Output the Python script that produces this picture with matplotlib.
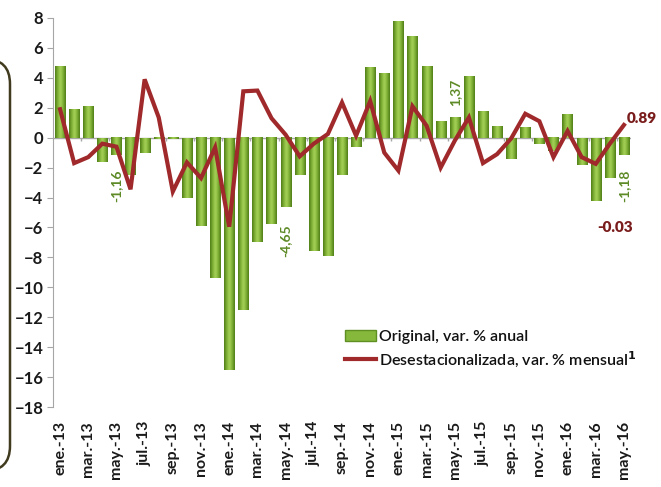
import numpy as np
import matplotlib.pyplot as plt
from matplotlib.colors import LinearSegmentedColormap
from matplotlib.patches import FancyBboxPatch, Patch
from matplotlib.lines import Line2D

months = ["ene.-13", "feb.-13", "mar.-13", "abr.-13", "may.-13", "jun.-13", "jul.-13",
          "ago.-13", "sep.-13", "oct.-13", "nov.-13", "dic.-13",
          "ene.-14", "feb.-14", "mar.-14", "abr.-14", "may.-14", "jun.-14", "jul.-14",
          "ago.-14", "sep.-14", "oct.-14", "nov.-14", "dic.-14",
          "ene.-15", "feb.-15", "mar.-15", "abr.-15", "may.-15", "jun.-15", "jul.-15",
          "ago.-15", "sep.-15", "oct.-15", "nov.-15", "dic.-15",
          "ene.-16", "feb.-16", "mar.-16", "abr.-16", "may.-16"]

original = [4.8, 1.9, 2.1, -1.6, -1.16, -2.5, -1.0, -0.1, -0.1, -4.0, -5.9, -9.4,
            -15.5, -11.5, -7.0, -5.8, -4.65, -2.5, -7.6, -7.9, -2.5, -0.65, 4.7, 4.3,
            7.8, 6.8, 4.8, 1.1, 1.37, 4.1, 1.8, 0.75, -1.4, 0.7, -0.4, -0.9,
            1.6, -1.8, -4.2, -2.7, -1.18]

desest = [1.9, -1.7, -1.3, -0.4, -0.6, -3.45, 3.9, 1.35, -3.6, -1.65, -2.7, -0.65,
          -5.95, 3.1, 3.15, 1.3, 0.2, -1.25, -0.4, 0.25, 2.35, 0.13, 2.45, -1.0,
          -2.2, 2.1, 0.8, -2.0, -0.2, 1.35, -1.7, -1.1, -0.05, 1.6, 1.1, -1.3,
          0.45, -1.3, -1.75, -0.4, 0.85]

# value labels: (month index, label text, y position)
green_labels = [(4, "-1,16", -3.2), (16, "-4,65", -6.9), (28, "1,37", 3.0), (40, "-1,18", -3.2)]
red_labels = [(39.4, "-0.03", -6.0, "center"), (40.2, "0.89", 1.25, "left")]

plt.rcParams["font.family"] = ["Lato", "DejaVu Sans"]

fig = plt.figure(figsize=(6.61, 4.87), dpi=100)
ax = fig.add_axes([53 / 661, 80 / 487, 578 / 661, 389 / 487])

x = np.arange(len(months))
bars = ax.bar(x, original, width=0.72, color="#7aab2f", zorder=2)

green_cmap = LinearSegmentedColormap.from_list(
    "g", ["#4e7c18", "#7fb035", "#a8d25a", "#7fb035", "#4e7c18"])
grad = np.linspace(0, 1, 64).reshape(1, -1)
for b in bars:
    x0, y0 = b.get_x(), b.get_y()
    w, h = b.get_width(), b.get_height()
    ax.imshow(grad, extent=[x0, x0 + w, y0, y0 + h], cmap=green_cmap,
              aspect="auto", zorder=2.1, interpolation="bicubic")

ax.plot(x, desest, color="#a0292b", lw=3, zorder=3, solid_joinstyle="miter")

ax.axhline(0, color="#a6a6a6", lw=1, zorder=1.5)
ax.vlines(np.arange(1.5, len(months) - 1, 2), -0.25, 0, color="#a6a6a6", lw=1, zorder=1.5)

for i, txt, yv in green_labels:
    ax.text(i, yv, txt, rotation=90, ha="center", va="center", color="#5d8a26",
            fontsize=10, fontweight="bold", zorder=4)
for i, txt, yv, ha in red_labels:
    ax.text(i, yv, txt, ha=ha, va="center", color="#7a1c1c",
            fontsize=11, fontweight="heavy", zorder=4, clip_on=False)

ax.set_xlim(-0.5, len(months) - 0.5)
ax.set_ylim(-18, 8)
ax.set_yticks(np.arange(-18, 9, 2))
ax.set_xticks(x[::2])
ax.set_xticklabels(months[::2], rotation=90)
ax.tick_params(axis="x", length=0, pad=10, labelsize=11.5)
ax.tick_params(axis="y", length=4, color="#a6a6a6", pad=3, labelsize=12)
for lab in ax.get_xticklabels() + ax.get_yticklabels():
    lab.set_fontweight("bold")
    lab.set_color("#1a1a1a")

for s in ["top", "right", "bottom"]:
    ax.spines[s].set_visible(False)
ax.spines["left"].set_color("#a6a6a6")

handles = [Patch(facecolor="#86b83c", edgecolor="#5f8f22"),
           Line2D([0], [0], color="#a0292b", lw=3)]
labels = ["Original, var. % anual", r"Desestacionalizada, var. % mensual$^{\mathbf{1}}$"]
leg = ax.legend(handles, labels, loc="upper left", bbox_to_anchor=(0.495, 0.215),
                frameon=False, fontsize=11.5, handlelength=1.9, handletextpad=0.2,
                labelspacing=0.3, borderaxespad=0)
for t in leg.get_texts():
    t.set_color("#111111")
    t.set_fontweight("semibold")

# right edge of the neighbouring rounded panel
border = FancyBboxPatch((-2.0, 0.16), 2.1, 4.12, boxstyle="round,pad=0,rounding_size=0.25",
                        transform=fig.dpi_scale_trans, facecolor="none",
                        edgecolor="#403a1e", lw=1.8, clip_on=False)
fig.patches.append(border)

fig.savefig("out.png", dpi=100)
